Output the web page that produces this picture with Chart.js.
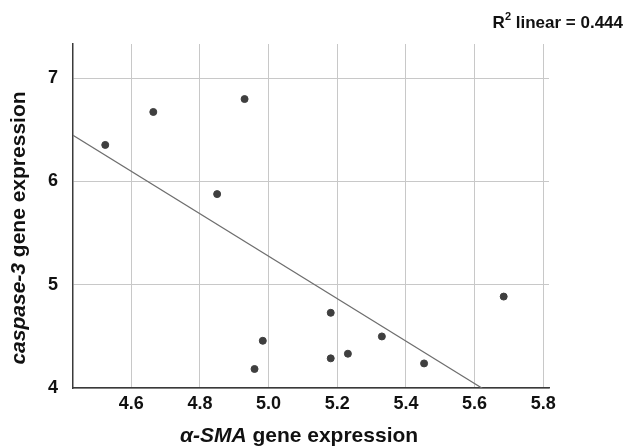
<!DOCTYPE html>
<html>
<head>
<meta charset="utf-8">
<script src="https://cdn.jsdelivr.net/npm/chart.js@4"></script>
<style>
  html, body { margin: 0; padding: 0; background: #fff; }
  #wrap { width: 625px; height: 447px; position: relative; }
</style>
</head>
<body>
<div id="wrap"><canvas id="chart"></canvas></div>
<script>
// values
const smaValues = [4.524, 4.664, 4.930, 4.850, 4.983, 4.959, 5.181, 5.181, 5.231, 5.330, 5.453, 5.685];
const casp3Values = [6.353, 6.672, 6.797, 5.877, 4.457, 4.184, 4.728, 4.287, 4.332, 4.499, 4.238, 4.885];
const xTicks = [4.6, 4.8, 5.0, 5.2, 5.4, 5.6, 5.8];
const yTicks = [4, 5, 6, 7];
const xRange = [4.43, 5.817];
const yRange = [4, 7.33];

const FONT = '"Liberation Sans", Arial, sans-serif';

// least squares fit
const n = smaValues.length;
const mx = smaValues.reduce((a, b) => a + b, 0) / n;
const my = casp3Values.reduce((a, b) => a + b, 0) / n;
let sxx = 0, sxy = 0, syy = 0;
for (let i = 0; i < n; i++) {
    const dx = smaValues[i] - mx, dy = casp3Values[i] - my;
    sxx += dx * dx; sxy += dx * dy; syy += dy * dy;
}
const slope = sxy / sxx;
const icpt = my - slope * mx;
const r2 = (sxy * sxy) / (sxx * syy);

const points = smaValues.map((x, i) => ({ x, y: casp3Values[i] }));
const fitLine = xRange.map(x => ({ x, y: icpt + slope * x }));

// draws two pieces of text, the first in italics, centred on 0
function mixed(c, a, b, size, y) {
    c.font = `italic bold ${size}px ${FONT}`;
    const wa = c.measureText(a).width;
    c.font = `bold ${size}px ${FONT}`;
    const wb = c.measureText(b).width;
    const s = -(wa + wb) / 2;
    c.font = `italic bold ${size}px ${FONT}`;
    c.fillText(a, s, y);
    c.font = `bold ${size}px ${FONT}`;
    c.fillText(b, s + wa, y);
}

const textPlugin = {
    id: 'texts',
    afterDraw(chart) {
        const c = chart.ctx;
        c.save();
        c.fillStyle = '#111';
        c.textBaseline = 'alphabetic';

        // x title
        c.translate(299, 442);
        mixed(c, 'α-SMA', ' gene expression', 21, 0);
        c.setTransform(1, 0, 0, 1, 0, 0);

        // y title
        c.translate(25, 228);
        c.rotate(-Math.PI / 2);
        mixed(c, 'caspase-3', ' gene expression', 21, 0);
        c.setTransform(1, 0, 0, 1, 0, 0);

        // R squared
        const rest = ' linear = ' + r2.toFixed(3);
        c.font = `bold 17px ${FONT}`;
        const wr = c.measureText('R').width;
        const wrest = c.measureText(rest).width;
        c.font = `bold 11px ${FONT}`;
        const w2 = c.measureText('2').width;
        const rx = 623 - (wr + w2 + wrest);
        c.font = `bold 17px ${FONT}`;
        c.fillText('R', rx, 28);
        c.font = `bold 11px ${FONT}`;
        c.fillText('2', rx + wr, 20);
        c.font = `bold 17px ${FONT}`;
        c.fillText(rest, rx + wr + w2, 28);
        c.restore();
    }
};

new Chart(document.getElementById('chart'), {
    type: 'scatter',
    data: {
        datasets: [
            {
                data: points,
                backgroundColor: '#3f3f3f',
                borderColor: '#3f3f3f',
                pointRadius: 3.5,
                pointHoverRadius: 3.5
            },
            {
                type: 'line',
                data: fitLine,
                borderColor: '#6e6e6e',
                borderWidth: 1.2,
                pointRadius: 0,
                fill: false
            }
        ]
    },
    options: {
        responsive: true,
        maintainAspectRatio: false,
        animation: false,
        events: [],
        layout: { padding: { left: 0, top: 44, right: 76, bottom: 0 } },
        plugins: { legend: { display: false }, tooltip: { enabled: false } },
        scales: {
            x: {
                type: 'linear',
                min: xRange[0],
                max: xRange[1],
                afterBuildTicks: s => { s.ticks = xTicks.map(v => ({ value: v })); },
                afterFit: s => { s.height = 59; },
                grid: { color: '#c8c8c8', lineWidth: 1, drawTicks: false },
                border: { color: '#3a3a3a', width: 1.5 },
                ticks: {
                    padding: 5,
                    color: '#111',
                    font: { family: FONT, size: 18, weight: 'bold' },
                    callback: v => v.toFixed(1)
                }
            },
            y: {
                min: yRange[0],
                max: yRange[1],
                afterBuildTicks: s => { s.ticks = yTicks.map(v => ({ value: v })); },
                afterFit: s => { s.width = 73; },
                grid: { color: '#c8c8c8', lineWidth: 1, drawTicks: false },
                border: { color: '#3a3a3a', width: 1.5 },
                ticks: {
                    padding: 15,
                    color: '#111',
                    font: { family: FONT, size: 18, weight: 'bold' },
                    callback: v => String(v)
                }
            }
        }
    },
    plugins: [textPlugin]
});
</script>
</body>
</html>
